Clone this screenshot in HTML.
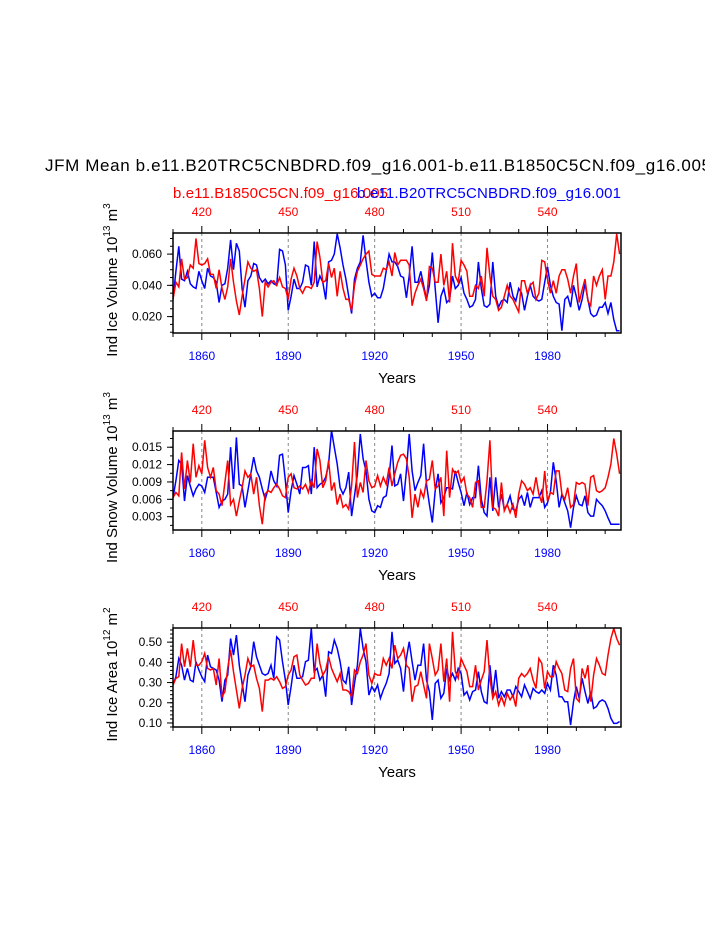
<!DOCTYPE html>
<html><head><meta charset="utf-8"><style>
html,body{margin:0;padding:0;background:#fff;}
svg{display:block;font-family:"Liberation Sans",Arial,sans-serif;}
</style></head><body>
<svg id="chart" width="723" height="935" viewBox="0 0 723 935">
<defs><clipPath id="titleclip"><rect x="0" y="140" width="705" height="40"/></clipPath>
<clipPath id="plotclip1"><rect x="173" y="233" width="448" height="100"/></clipPath>
<clipPath id="plotclip2"><rect x="173" y="431" width="448" height="99"/></clipPath>
<clipPath id="plotclip3"><rect x="173" y="628" width="448" height="99"/></clipPath></defs>
<text x="45" y="171" font-size="17" textLength="666" clip-path="url(#titleclip)">JFM Mean b.e11.B20TRC5CNBDRD.f09_g16.001-b.e11.B1850C5CN.f09_g16.005</text>
<text x="173" y="198" font-size="15" fill="#ff0000" textLength="215">b.e11.B1850C5CN.f09_g16.005</text>
<text x="621" y="198" font-size="15" fill="#0000ff" text-anchor="end" textLength="264">b.e11.B20TRC5CNBDRD.f09_g16.001</text>
<g id="panels"></g>
</svg>
<script>
const years = Array.from({length:156},(_,i)=>1850+i);
const blueIceVol = [0.031,0.049,0.065,0.044,0.043,0.049,0.041,0.039,0.038,0.049,
0.043,0.038,0.051,0.046,0.045,0.042,0.029,0.040,0.041,0.051,
0.069,0.050,0.067,0.062,0.038,0.026,0.043,0.046,0.054,0.053,
0.045,0.042,0.044,0.041,0.043,0.041,0.040,0.063,0.062,0.053,
0.024,0.033,0.044,0.038,0.038,0.042,0.053,0.052,0.040,0.068,
0.039,0.046,0.042,0.031,0.055,0.056,0.060,0.073,0.064,0.053,
0.044,0.033,0.022,0.044,0.051,0.055,0.072,0.056,0.042,0.033,
0.035,0.032,0.032,0.038,0.049,0.060,0.055,0.055,0.052,0.046,
0.045,0.032,0.046,0.065,0.042,0.042,0.049,0.040,0.031,0.040,
0.061,0.038,0.016,0.033,0.038,0.029,0.031,0.046,0.038,0.040,
0.045,0.035,0.031,0.026,0.027,0.031,0.055,0.038,0.027,0.026,
0.028,0.055,0.033,0.026,0.030,0.031,0.029,0.042,0.033,0.030,
0.038,0.035,0.024,0.033,0.040,0.033,0.031,0.030,0.031,0.042,
0.052,0.040,0.033,0.029,0.028,0.011,0.031,0.033,0.026,0.040,
0.033,0.024,0.031,0.041,0.031,0.022,0.020,0.021,0.026,0.026,
0.029,0.022,0.029,0.018,0.011,0.011];
const redIceVol = [0.031,0.042,0.039,0.057,0.044,0.045,0.053,0.051,0.070,0.054,
0.053,0.054,0.057,0.047,0.047,0.038,0.050,0.038,0.031,0.039,
0.057,0.042,0.030,0.021,0.033,0.044,0.055,0.051,0.049,0.050,
0.038,0.020,0.042,0.039,0.042,0.043,0.040,0.045,0.039,0.038,
0.031,0.044,0.051,0.046,0.038,0.035,0.039,0.039,0.038,0.042,
0.068,0.058,0.042,0.043,0.054,0.045,0.051,0.033,0.049,0.038,
0.031,0.031,0.024,0.040,0.049,0.053,0.057,0.060,0.062,0.047,
0.046,0.046,0.046,0.051,0.050,0.055,0.046,0.061,0.053,0.056,
0.056,0.056,0.053,0.027,0.035,0.040,0.044,0.038,0.030,0.052,
0.051,0.042,0.042,0.060,0.040,0.049,0.029,0.067,0.046,0.042,
0.056,0.053,0.049,0.033,0.033,0.040,0.038,0.046,0.033,0.064,
0.046,0.033,0.031,0.024,0.026,0.033,0.040,0.033,0.031,0.027,
0.023,0.043,0.043,0.035,0.040,0.042,0.031,0.035,0.056,0.055,
0.044,0.035,0.043,0.035,0.046,0.050,0.050,0.044,0.035,0.046,
0.054,0.029,0.037,0.044,0.030,0.027,0.046,0.040,0.046,0.050,
0.031,0.046,0.046,0.055,0.073,0.060];
const blueSnowVol = [.0063,.0092,.0127,.0121,.0057,.0101,.0083,.0066,.0078,.0086,
.0083,.0072,.0098,.0098,.0098,.0072,.0046,.0057,.0060,.0069,
.0150,.0078,.0167,.0086,.0083,.0046,.0075,.0104,.0133,.0109,
.0098,.0078,.0060,.0078,.0109,.0092,.0083,.0136,.0138,.0092,
.0037,.0075,.0101,.0086,.0069,.0115,.0115,.0118,.0069,.0150,
.0080,.0086,.0089,.0098,.0121,.0179,.0150,.0121,.0080,.0069,
.0080,.0107,.0031,.0066,.0104,.0173,.0130,.0109,.0060,.0040,
.0037,.0049,.0046,.0063,.0066,.0098,.0153,.0083,.0086,.0104,
.0057,.0109,.0173,.0109,.0075,.0089,.0101,.0156,.0086,.0051,
.0020,.0075,.0104,.0054,.0063,.0080,.0080,.0078,.0109,.0089,
.0072,.0049,.0072,.0051,.0063,.0063,.0118,.0060,.0037,.0031,
.0098,.0040,.0098,.0046,.0069,.0043,.0051,.0066,.0043,.0040,
.0060,.0066,.0049,.0072,.0046,.0063,.0063,.0063,.0075,.0046,
.0054,.0072,.0124,.0092,.0046,.0069,.0054,.0040,.0011,.0046,
.0066,.0051,.0049,.0066,.0037,.0031,.0031,.0060,.0054,.0049,
.0040,.0028,.0017,.0017,.0017,.0017];
const redSnowVol = [.0063,.0072,.0066,.0141,.0078,.0127,.0089,.0156,.0098,.0118,
.0104,.0162,.0115,.0098,.0115,.0075,.0069,.0049,.0089,.0127,
.0051,.0060,.0031,.0057,.0080,.0109,.0098,.0104,.0069,.0098,
.0049,.0017,.0069,.0075,.0072,.0080,.0086,.0078,.0066,.0063,
.0098,.0104,.0080,.0078,.0083,.0078,.0086,.0072,.0092,.0080,
.0147,.0127,.0080,.0092,.0127,.0075,.0089,.0051,.0069,.0046,
.0051,.0043,.0083,.0159,.0063,.0089,.0072,.0127,.0092,.0080,
.0083,.0101,.0083,.0098,.0086,.0115,.0083,.0104,.0124,.0136,
.0138,.0130,.0098,.0028,.0069,.0046,.0075,.0063,.0092,.0095,
.0127,.0078,.0083,.0098,.0031,.0144,.0063,.0112,.0104,.0109,
.0089,.0098,.0069,.0063,.0046,.0089,.0092,.0046,.0046,.0092,
.0162,.0046,.0043,.0031,.0089,.0040,.0051,.0037,.0051,.0028,
.0069,.0092,.0086,.0075,.0080,.0069,.0098,.0069,.0054,.0109,
.0057,.0072,.0069,.0109,.0109,.0069,.0060,.0080,.0046,.0051,
.0089,.0086,.0089,.0086,.0049,.0098,.0101,.0075,.0072,.0075,
.0080,.0098,.0121,.0165,.0138,.0104];
const blueIceArea = [.288,.329,.419,.386,.312,.370,.312,.304,.403,.362,
.329,.304,.436,.378,.370,.362,.312,.205,.312,.337,
.518,.436,.535,.386,.296,.205,.337,.378,.502,.428,
.386,.345,.337,.345,.386,.321,.526,.510,.403,.312,
.189,.280,.386,.321,.321,.329,.403,.411,.568,.354,
.370,.312,.337,.230,.452,.444,.510,.469,.403,.312,
.296,.378,.189,.296,.386,.568,.469,.403,.238,.280,
.255,.288,.222,.263,.296,.345,.551,.395,.411,.370,
.255,.419,.502,.403,.312,.386,.386,.493,.312,.255,
.115,.296,.312,.222,.247,.370,.312,.345,.312,.370,
.345,.238,.255,.214,.255,.263,.354,.255,.205,.197,
.386,.238,.362,.222,.255,.230,.263,.263,.230,.280,
.255,.230,.288,.255,.222,.271,.255,.247,.263,.247,
.296,.263,.386,.337,.230,.230,.205,.205,.090,.205,
.280,.222,.321,.255,.197,.255,.172,.181,.205,.214,
.205,.172,.123,.098,.098,.107];
const redIceArea = [.288,.321,.329,.493,.378,.469,.378,.510,.386,.386,
.403,.444,.370,.362,.370,.288,.419,.230,.255,.370,
.461,.354,.263,.172,.271,.337,.419,.378,.386,.321,
.271,.156,.312,.312,.321,.312,.329,.304,.271,.280,
.337,.362,.428,.436,.337,.312,.288,.296,.321,.321,
.493,.395,.337,.362,.428,.370,.337,.304,.345,.263,
.263,.255,.230,.362,.345,.403,.436,.493,.337,.296,
.345,.337,.337,.419,.386,.419,.370,.485,.419,.436,
.469,.386,.370,.205,.280,.288,.354,.288,.222,.493,
.419,.337,.362,.493,.304,.419,.205,.551,.354,.321,
.419,.386,.354,.280,.280,.386,.263,.312,.354,.510,
.321,.222,.255,.189,.230,.189,.247,.214,.238,.181,
.321,.345,.329,.345,.370,.312,.271,.419,.395,.271,
.354,.329,.329,.403,.370,.345,.263,.255,.370,.419,
.222,.205,.370,.321,.386,.205,.337,.419,.386,.345,
.337,.436,.518,.568,.518,.485];
const bottomTicks = [1860,1890,1920,1950,1980];
const topTickLabels = ["420","450","480","510","540"];
const ticks1 = [0.020,0.040,0.060], labels1 = ["0.020","0.040","0.060"];
const ticks2 = [0.003,0.006,0.009,0.012,0.015], labels2 = ["0.003","0.006","0.009","0.012","0.015"];
const ticks3 = [0.1,0.2,0.3,0.4,0.5], labels3 = ["0.10","0.20","0.30","0.40","0.50"];

const NS="http://www.w3.org/2000/svg";
const root=document.getElementById('panels');
function mk(tag,attrs,parent){const e=document.createElementNS(NS,tag);for(const k in attrs)e.setAttribute(k,attrs[k]);(parent||root).appendChild(e);return e;}
const X0=173,X1=621,Y0=1850,YR1=2005.5;
function xs(y){return X0+(y-Y0)/(YR1-Y0)*(X1-X0);}

function panel(idx,top,bot,vmin,vmax,ticks,labels,minorStep,blue,red,titleMain,exp,unit){
  const g=mk('g',{});
  
  
  const ys=v=>bot-(v-vmin)/(vmax-vmin)*(bot-top);
  bottomTicks.forEach(t=>{const l=mk('line',{x1:xs(t),x2:xs(t),y1:top,y2:bot,stroke:'#888','stroke-width':1,'stroke-dasharray':'3,3'},g);
    
    });
  [[blue,'#0000ff','blue-series'],[red,'#ff0000','red-series']].forEach(([arr,col,nm])=>{
    const d=arr.map((v,i)=>(i?'L':'M')+xs(years[i]).toFixed(1)+','+ys(v).toFixed(1)).join('');
    const p=mk('path',{d:d,fill:'none',stroke:col,'stroke-width':1.5,'clip-path':'url(#plotclip'+idx+')'},g);
    
    
  });
  const fr=mk('rect',{x:X0,y:top,width:X1-X0,height:bot-top,fill:'none',stroke:'#000','stroke-width':1.5},g);
  
  
  for(let y=1850;y<=2005;y+=10){const maj=(y-1860)%30===0;
    mk('line',{x1:xs(y),x2:xs(y),y1:bot,y2:bot+(maj?7:4),stroke:'#000','stroke-width':1},g);
    mk('line',{x1:xs(y),x2:xs(y),y1:top,y2:top-(maj?7:4),stroke:'#000','stroke-width':1},g);}
  bottomTicks.forEach((t,i)=>{
    const tb=mk('text',{x:xs(t),y:bot+27,'font-size':12,fill:'#0000ff','text-anchor':'middle'},g);tb.textContent=t;
    
    
    const tt=mk('text',{x:xs(t),y:top-17,'font-size':12,fill:'#ff0000','text-anchor':'middle'},g);tt.textContent=topTickLabels[i];
    
    
  });
  for(let v=Math.ceil(vmin/minorStep)*minorStep;v<=vmax;v+=minorStep){
    mk('line',{x1:X0,x2:X0-3,y1:ys(v),y2:ys(v),stroke:'#000','stroke-width':1},g);}
  ticks.forEach((t,i)=>{mk('line',{x1:X0,x2:X0-6,y1:ys(t),y2:ys(t),stroke:'#000','stroke-width':1},g);
    const tl=mk('text',{x:X0-11,y:ys(t)+4,'font-size':12,'text-anchor':'end'},g);tl.textContent=labels[i];
    
    });
  const xt=mk('text',{x:397,y:bot+50,'font-size':15,'text-anchor':'middle'},g);xt.textContent='Years';
  
  
  const cy=(top+bot)/2-3;
  const yt=mk('text',{x:0,y:0,'font-size':15,'text-anchor':'middle',transform:'translate(117,'+cy+') rotate(-90)'},g);
  
  
  const a=mk('tspan',{},yt);a.textContent=titleMain+' 10';
  const b=mk('tspan',{'font-size':10,dy:-7},yt);b.textContent=exp;
  const c=mk('tspan',{dy:7},yt);c.textContent=' m';
  const d=mk('tspan',{'font-size':10,dy:-7},yt);d.textContent=unit;
}
panel(1,233,333,0.0095,0.0735,ticks1,labels1,0.005,blueIceVol,redIceVol,'Ind Ice Volume','13','3');
panel(2,431,530,0.0007,0.0178,ticks2,labels2,0.0015,blueSnowVol,redSnowVol,'Ind Snow Volume','13','3');
panel(3,628,727,0.08,0.57,ticks3,labels3,0.02,blueIceArea,redIceArea,'Ind Ice Area','12','2');
</script>
</body></html>
